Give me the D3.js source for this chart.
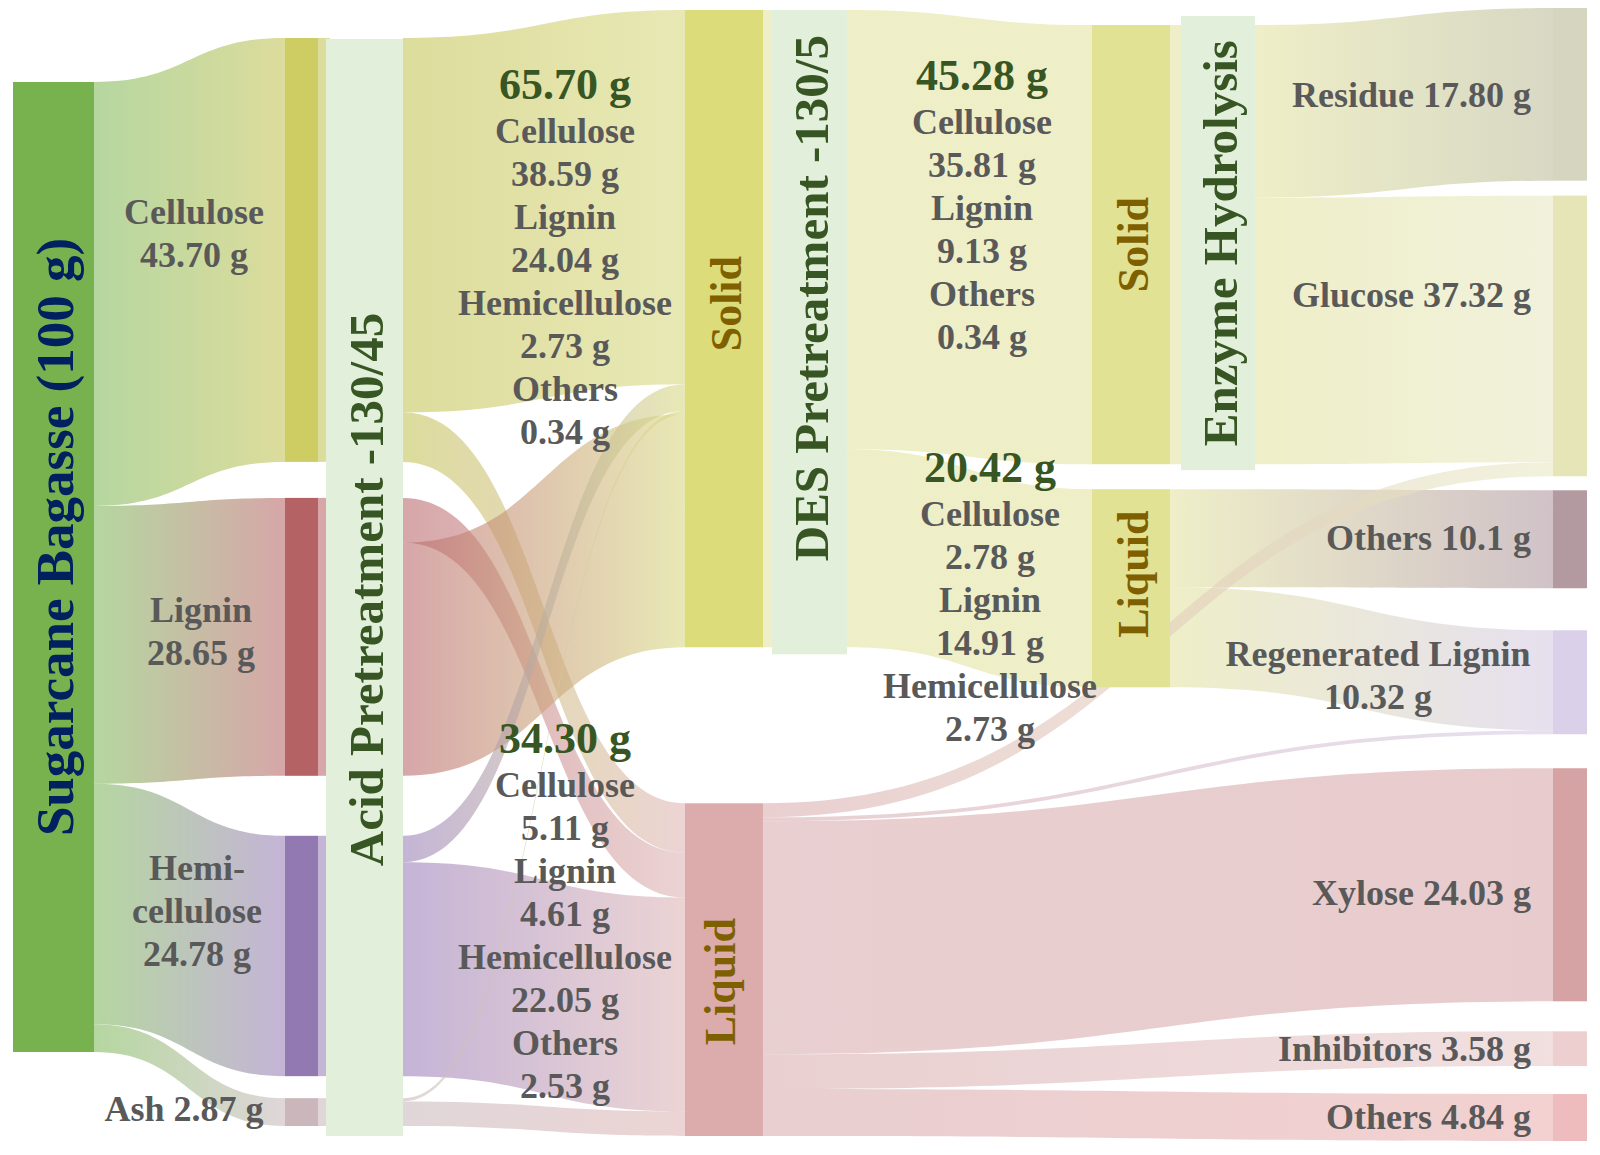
<!DOCTYPE html>
<html>
<head>
<meta charset="utf-8">
<script src="https://cdn.jsdelivr.net/npm/d3@7"></script>
<style>
  body { margin: 0; background: #fff; }
  svg text { font-family: "Liberation Serif", "Times New Roman", serif; font-weight: bold; }
</style>
</head>
<body>
<svg id="chart" width="1600" height="1155"></svg>
<script>
// ---- data ----
const nodeIds = ["bagasse", "cellulose", "lignin", "hemi", "ash", "solid", "liquid",
  "desSolid", "desLiquid", "residue", "glucose", "others1", "regLignin", "xylose", "inhibitors", "others2"];
const nodeColumns = [0, 1, 1, 1, 1, 2, 2, 3, 3, 4, 4, 4, 4, 4, 4, 4];

const linkSources = ["bagasse", "bagasse", "bagasse", "bagasse",
  "cellulose", "cellulose", "lignin", "lignin", "hemi", "hemi", "ash", "ash",
  "solid", "solid",
  "desSolid", "desSolid", "desLiquid", "desLiquid",
  "liquid", "liquid", "liquid", "liquid", "liquid"];
const linkTargets = ["cellulose", "lignin", "hemi", "ash",
  "solid", "liquid", "liquid", "solid", "solid", "liquid", "solid", "liquid",
  "desSolid", "desLiquid",
  "residue", "glucose", "others1", "regLignin",
  "glucose", "regLignin", "xylose", "inhibitors", "others2"];
const linkValues = [43.70, 28.65, 24.78, 2.87,
  38.59, 5.11, 4.61, 24.04, 2.73, 22.05, 0.34, 2.53,
  45.28, 20.42,
  17.80, 27.48, 10.1, 10.32,
  1.45, 0.40, 24.03, 3.58, 4.84];

// order of incoming links on the target side (default = link order)
const inOrder = {
  solid: ["cellulose", "hemi", "ash", "lignin"],
  liquid: ["cellulose", "lignin", "hemi", "ash"]
};

const partNames = { cellulose: "Cellulose", lignin: "Lignin", hemi: "Hemicellulose", ash: "Others" };
const desSolidParts = ["Cellulose", "Lignin", "Others"];
const desSolidPartValues = [35.81, 9.13, 0.34];
const desLiquidParts = ["Cellulose", "Lignin", "Hemicellulose"];
const desLiquidPartValues = [2.78, 14.91, 2.73];

const productLabels = [
  ["residue", ["Residue 17.80 g"]],
  ["glucose", ["Glucose 37.32 g"]],
  ["others1", ["Others 10.1 g"]],
  ["regLignin", ["Regenerated Lignin", "10.32 g"]],
  ["xylose", ["Xylose 24.03 g"]],
  ["inhibitors", ["Inhibitors 3.58 g"]],
  ["others2", ["Others 4.84 g"]]
];

const bandLabels = ["Acid Pretreatment -130/45", "DES Pretreatment -130/5", "Enzyme Hydrolysis"];
const bandCovers = [["cellulose", "lignin", "hemi", "ash"], ["solid"], ["desSolid"]];

// ---- layout / style ----
const colX0 = [13, 285, 685, 1092, 1553];
const colX1 = [94, 318, 763, 1170, 1587];
const colTop = [82, 38, 10, 25, 8];
const colGaps = [[], [36, 60, 22], [156], [25], [15, 14, 42, 34, 30, 28]];
const bandX = [[326, 403], [772, 847], [1181, 1255]];
const bandPad = [[-1, 10], [0, 7], [9, 6]];
const bandTextDy = [2, -34, 0];

const nodeFill = ["#78b24e", "#cdcd63", "#b56264", "#9279b1", "#cbb7bb", "#dcdc7b", "#dcabac",
  "#e2e294", "#e2e294", "#d6d6c0", "#e5e5b8", "#b39aa1", "#dbd0ea", "#d6a3a4", "#edcfd0", "#efbcbd"];
const linkInColor = ["#84bb61", "#c5c55a", "#bb6b6e", "#9d82bb", "#cbbbc0", "#d9d984", "#dfb7b7",
  "#e3e3a3", "#e3e3a3", "#bebe9d", "#e9e9c5", "#b199a3", "#d5cbe4", "#d9aaac", "#e8cacb", "#ebb1b2"];
const linkOutColor = ["#84bb61", "#c5c55a", "#bb6b6e", "#9d82bb", "#cbbbc0", "#e3e3a3", "#daafb1",
  "#e3e3a3", "#e3e3a3", "#bebe9d", "#e9e9c5", "#b199a3", "#d5cbe4", "#d9aaac", "#e8cacb", "#ebb1b2"];

const grey = "#595959", green = "#375623", gold = "#7f6000", navy = "#002060";
const fmt = d3.format(".2f");

const svg = d3.select("#chart");
const defs = svg.append("defs");

// value -> pixel thickness
const h = d3.scaleLinear().domain([0, 100]).range([0, 970]);

// ---- build graph ----
const nodes = nodeIds.map((id, i) => ({ id, i, col: nodeColumns[i], inLinks: [], outLinks: [] }));
const byId = Object.fromEntries(nodes.map(n => [n.id, n]));
const links = linkSources.map((s, i) => ({ i, source: byId[s], target: byId[linkTargets[i]], value: linkValues[i] }));
links.forEach(l => { l.source.outLinks.push(l); l.target.inLinks.push(l); });
nodes.forEach(n => {
  n.value = Math.max(d3.sum(n.inLinks, d => d.value), d3.sum(n.outLinks, d => d.value));
});

d3.groups(nodes, n => n.col).forEach(([c, list]) => {
  let yy = colTop[c];
  list.forEach((n, j) => {
    if (j > 0) yy += colGaps[c][j - 1];
    n.x0 = colX0[c]; n.x1 = colX1[c];
    n.y0 = yy; n.y1 = yy + h(n.value); yy = n.y1;
    n.exitX = n.x1;
  });
});

nodes.forEach(n => {
  const ord = inOrder[n.id];
  if (ord) n.inLinks.sort((a, b) => ord.indexOf(a.source.id) - ord.indexOf(b.source.id));
  let sy = n.y0;
  n.outLinks.forEach(l => { l.sy0 = sy; sy += h(l.value); l.sy1 = sy; });
  let ty = n.y0;
  n.inLinks.forEach(l => { l.ty0 = ty; ty += h(l.value); l.ty1 = ty; });
});

// process bands
const bands = bandLabels.map((label, b) => {
  const covered = bandCovers[b].map(id => byId[id]);
  covered.forEach(n => { n.exitX = bandX[b][1]; n.bandX0 = bandX[b][0]; });
  return {
    label, covered, dy: bandTextDy[b],
    x0: bandX[b][0], x1: bandX[b][1],
    y0: d3.min(covered, n => n.y0) - bandPad[b][0],
    y1: d3.max(covered, n => n.y1) + bandPad[b][1]
  };
});

function ribbon(l) {
  const x0 = l.source.exitX, x1 = l.target.x0, xm = (x0 + x1) / 2;
  const p = d3.path();
  p.moveTo(x0, l.sy0);
  p.bezierCurveTo(xm, l.sy0, xm, l.ty0, x1, l.ty0);
  p.lineTo(x1, l.ty1);
  p.bezierCurveTo(xm, l.ty1, xm, l.sy1, x0, l.sy1);
  p.closePath();
  return p.toString();
}

// gradients
links.forEach(l => {
  const g = defs.append("linearGradient")
    .attr("id", "grad" + l.i)
    .attr("gradientUnits", "userSpaceOnUse")
    .attr("x1", l.source.exitX).attr("x2", l.target.x0)
    .attr("y1", 0).attr("y2", 0);
  g.append("stop").attr("offset", "0%").attr("stop-color", linkOutColor[l.source.i]);
  g.append("stop").attr("offset", "100%").attr("stop-color", linkInColor[l.target.i]);
});

// links
svg.append("g")
  .selectAll("path")
  .data(links)
  .enter()
  .append("path")
  .attr("d", ribbon)
  .attr("fill", d => `url(#grad${d.i})`)
  .attr("fill-opacity", 0.6);

// strips from covered nodes into the band
svg.append("g")
  .selectAll("rect")
  .data(nodes.filter(n => n.bandX0 !== undefined))
  .enter()
  .append("rect")
  .attr("x", d => d.x1)
  .attr("y", d => d.y0)
  .attr("width", d => d.bandX0 - d.x1 + 4)
  .attr("height", d => d.y1 - d.y0)
  .attr("fill", d => linkOutColor[d.i])
  .attr("fill-opacity", 0.6);

// nodes
svg.append("g")
  .selectAll("rect")
  .data(nodes)
  .enter()
  .append("rect")
  .attr("x", d => d.x0)
  .attr("y", d => d.y0)
  .attr("width", d => d.x1 - d.x0)
  .attr("height", d => d.y1 - d.y0)
  .attr("fill", d => nodeFill[d.i]);

// bands
const bandG = svg.append("g").selectAll("g").data(bands).enter().append("g");
bandG.append("rect")
  .attr("x", d => d.x0).attr("y", d => d.y0)
  .attr("width", d => d.x1 - d.x0).attr("height", d => d.y1 - d.y0)
  .attr("fill", "#e2efda");
bandG.append("text")
  .attr("transform", d => `translate(${(d.x0 + d.x1) / 2 + 2},${(d.y0 + d.y1) / 2 + d.dy}) rotate(-90)`)
  .attr("text-anchor", "middle")
  .attr("dominant-baseline", "central")
  .style("font-size", "49px")
  .style("fill", green)
  .text(d => d.label);

// rotated text inside nodes
function vText(x, yc, txt, size, color) {
  svg.append("text")
    .attr("transform", `translate(${x},${yc}) rotate(-90)`)
    .attr("text-anchor", "middle")
    .attr("dominant-baseline", "central")
    .style("font-size", size + "px")
    .style("fill", color)
    .text(txt);
}
const cx = n => (n.x0 + n.x1) / 2, cy = n => (n.y0 + n.y1) / 2;
vText(cx(byId.bagasse) + 1, cy(byId.bagasse) - 30, "Sugarcane Bagasse (100 g)", 53, navy);
vText(cx(byId.solid) + 2, cy(byId.solid) - 25, "Solid", 44, gold);
vText(cx(byId.liquid) - 4, cy(byId.liquid) + 12, "Liquid", 44, gold);
vText(cx(byId.desSolid) + 2, cy(byId.desSolid), "Solid", 44, gold);
vText(cx(byId.desLiquid) + 2, cy(byId.desLiquid) - 14, "Liquid", 44, gold);

// horizontal multi-line text
function block(x, y0, lines, anchor) {
  const t = svg.append("text").attr("text-anchor", anchor || "middle");
  lines.forEach(ln => {
    t.append("tspan")
      .attr("x", x)
      .attr("y", y0 + (ln.dy || 0))
      .style("font-size", (ln.size || 36) + "px")
      .style("fill", ln.color || grey)
      .text(ln.text);
  });
}
function lines(arr, step, startDy) {
  return arr.map((s, j) => ({ text: s, dy: (startDy || 0) + j * step }));
}

// component labels (from bagasse links)
const bl = byId.bagasse.outLinks;
block(194, 224, lines(["Cellulose", fmt(bl[0].value) + " g"], 43));
block(201, 622, lines(["Lignin", fmt(bl[1].value) + " g"], 43));
block(197, 880, lines(["Hemi-", "cellulose", fmt(bl[2].value) + " g"], 43));
block(184, 1121, lines(["Ash " + fmt(bl[3].value) + " g"], 43));

// composition blocks
function compBlock(x, y0, node, names, vals) {
  const arr = [{ text: fmt(node.value) + " g", size: 44, color: green, dy: 0 }];
  names.forEach((nm, j) => {
    arr.push({ text: nm, dy: 44 + j * 86 });
    arr.push({ text: fmt(vals[j]) + " g", dy: 44 + j * 86 + 43 });
  });
  block(x, y0, arr);
}
const compOrder = ["cellulose", "lignin", "hemi", "ash"];
["solid", "liquid"].forEach(id => {
  const ls = byId[id].inLinks.slice().sort((a, b) => compOrder.indexOf(a.source.id) - compOrder.indexOf(b.source.id));
  const pos = id === "solid" ? [565, 99] : [565, 753];
  compBlock(pos[0], pos[1], byId[id], ls.map(l => partNames[l.source.id]), ls.map(l => l.value));
});
compBlock(982, 90, byId.desSolid, desSolidParts, desSolidPartValues);
compBlock(990, 482, byId.desLiquid, desLiquidParts, desLiquidPartValues);

// product labels
const productDy = { residue: 13, glucose: -29, others1: 11, regLignin: -16, xylose: 20, inhibitors: 12, others2: 11 };
productLabels.forEach(([id, txt]) => {
  const n = byId[id];
  if (txt.length > 1) {
    block(1378, cy(n) + productDy[id], lines(txt, 43));
  } else {
    block(1531, cy(n) + productDy[id], lines(txt, 43), "end");
  }
});
</script>
</body>
</html>
